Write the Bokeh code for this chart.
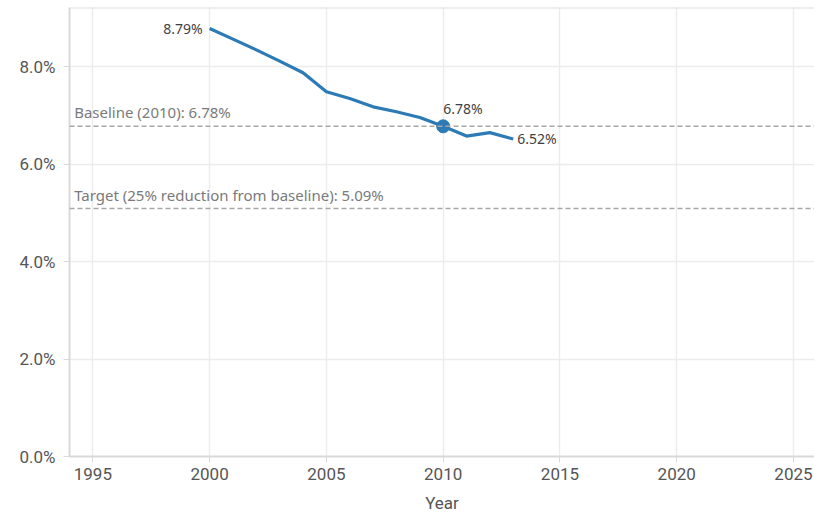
from bokeh.plotting import figure
from bokeh.models import Range1d, PrintfTickFormatter, FixedTicker, Span, Label, ColumnDataSource
from bokeh.embed import file_html
from bokeh.resources import INLINE

# Annual rate (%) by year
years = [2000, 2001, 2002, 2003, 2004, 2005, 2006, 2007, 2008, 2009, 2010, 2011, 2012, 2013]
rates = [8.79, 8.57, 8.35, 8.12, 7.88, 7.49, 7.35, 7.18, 7.08, 6.96, 6.78, 6.58, 6.65, 6.52]

baseline_year = 2010
baseline_rate = 6.78
target_rate = 5.09

x_ticks = [1995, 2000, 2005, 2010, 2015, 2020, 2025]
y_ticks = [0, 2, 4, 6, 8]

BLUE = "#2c7bb6"
AXIS_FONT = "Roboto"
TEXT_FONT = "Noto Sans"

Y_MAX = 9.22

p = figure(width=814, height=518, output_backend="svg", toolbar_location=None,
           x_range=Range1d(1994.0, 2025.9), y_range=Range1d(0, Y_MAX),
           min_border_left=69, min_border_right=0, min_border_top=7, min_border_bottom=62)

p.outline_line_color = None
p.background_fill_color = "white"
p.border_fill_color = "white"

# top frame edge
p.add_layout(Span(location=Y_MAX, dimension="width", line_color="#dddddd", line_width=2))

p.xgrid.ticker = FixedTicker(ticks=x_ticks)
p.ygrid.ticker = FixedTicker(ticks=y_ticks)
p.xgrid.grid_line_color = "#ececec"
p.ygrid.grid_line_color = "#ececec"
p.xgrid.grid_line_width = 1.5
p.ygrid.grid_line_width = 1.5

for ax in (p.xaxis[0], p.yaxis[0]):
    ax.axis_line_color = "#d9d9d9"
    ax.axis_line_width = 2
    ax.major_tick_line_color = "#d9d9d9"
    ax.major_tick_out = 6
    ax.major_tick_in = 0
    ax.minor_tick_line_color = None
    ax.major_label_text_color = "#555555"
    ax.major_label_text_font = AXIS_FONT
    ax.major_label_text_font_size = "17px"

p.xaxis.ticker = FixedTicker(ticks=x_ticks)
p.yaxis.ticker = FixedTicker(ticks=y_ticks)
p.yaxis.formatter = PrintfTickFormatter(format="%.1f%%")
p.xaxis.major_label_standoff = 5
p.yaxis.major_label_standoff = 8
p.xaxis.axis_label = "Year"
p.xaxis.axis_label_text_font = AXIS_FONT
p.xaxis.axis_label_text_font_style = "normal"
p.xaxis.axis_label_text_font_size = "17px"
p.xaxis.axis_label_text_color = "#555555"
p.xaxis.axis_label_standoff = 10

# Reference lines
for val, txt in [(baseline_rate, f"Baseline ({baseline_year}): {baseline_rate:.2f}%"),
                 (target_rate, f"Target (25% reduction from baseline): {target_rate:.2f}%")]:
    p.add_layout(Span(location=val, dimension="width", line_color="#a8a8a8",
                      line_dash="5 3", line_width=1.5))
    p.add_layout(Label(x=1994.2, y=val, text=txt, x_offset=0, y_offset=4,
                       text_font=TEXT_FONT, text_font_size="15px", text_color="#7a7a7a",
                       text_baseline="bottom"))

src = ColumnDataSource(dict(x=years, y=rates))
p.line("x", "y", source=src, line_color=BLUE, line_width=3.2)

bi = years.index(baseline_year)
p.scatter([years[bi]], [rates[bi]], size=13, fill_color=BLUE, line_color=BLUE)

# Value labels
lbl = dict(text_font=TEXT_FONT, text_font_size="14px", text_color="#3f3f3f")
p.add_layout(Label(x=years[0], y=rates[0], text=f"{rates[0]:.2f}%", x_offset=-7, y_offset=0,
                   text_align="right", text_baseline="middle", **lbl))
p.add_layout(Label(x=years[bi], y=rates[bi], text=f"{rates[bi]:.2f}%", x_offset=0, y_offset=8,
                   text_align="left", text_baseline="bottom", **lbl))
p.add_layout(Label(x=years[-1], y=rates[-1], text=f"{rates[-1]:.2f}%", x_offset=4, y_offset=0,
                   text_align="left", text_baseline="middle", **lbl))

open("out.html", "w").write(file_html(p, INLINE))
